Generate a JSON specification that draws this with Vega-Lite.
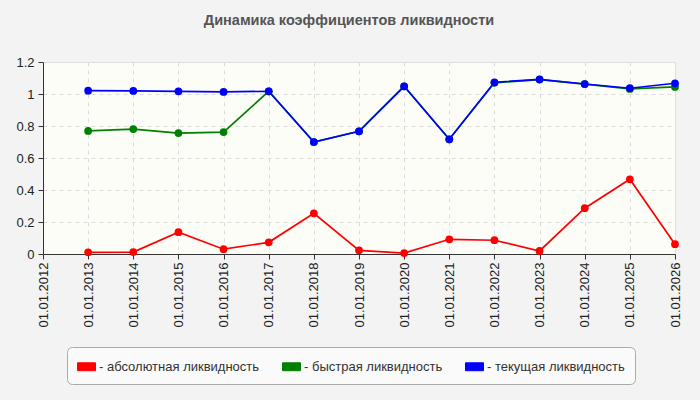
{
  "$schema": "https://vega.github.io/schema/vega-lite/v6.json",
  "width": 632,
  "height": 192,
  "autosize": {"type": "none"},
  "padding": {"left": 43, "top": 62, "right": 25, "bottom": 146},
  "background": "#f3f3f3",
  "title": {
    "text": "Динамика коэффициентов ликвидности",
    "font": "Liberation Sans",
    "fontSize": 14.5,
    "fontWeight": "bold",
    "color": "#555555",
    "anchor": "middle",
    "dx": -10,
    "offset": 28
  },
  "config": {
    "font": "Liberation Sans",
    "view": {"fill": "#fdfdf7", "stroke": "#e2e2e2"},
    "axis": {
      "labelFont": "Liberation Sans",
      "labelFontSize": 13,
      "labelColor": "#222222",
      "domainColor": "#333333",
      "tickColor": "#333333",
      "tickSize": 5,
      "gridColor": "#dddddd",
      "gridDash": [4, 4],
      "title": null
    }
  },
  "data": {
    "values": [
      {"year": 2013, "series": "абсолютная ликвидность", "value": 0.01},
      {"year": 2014, "series": "абсолютная ликвидность", "value": 0.012},
      {"year": 2015, "series": "абсолютная ликвидность", "value": 0.136},
      {"year": 2016, "series": "абсолютная ликвидность", "value": 0.03},
      {"year": 2017, "series": "абсолютная ликвидность", "value": 0.073},
      {"year": 2018, "series": "абсолютная ликвидность", "value": 0.254},
      {"year": 2019, "series": "абсолютная ликвидность", "value": 0.023},
      {"year": 2020, "series": "абсолютная ликвидность", "value": 0.006},
      {"year": 2021, "series": "абсолютная ликвидность", "value": 0.092},
      {"year": 2022, "series": "абсолютная ликвидность", "value": 0.086},
      {"year": 2023, "series": "абсолютная ликвидность", "value": 0.019},
      {"year": 2024, "series": "абсолютная ликвидность", "value": 0.286},
      {"year": 2025, "series": "абсолютная ликвидность", "value": 0.467},
      {"year": 2026, "series": "абсолютная ликвидность", "value": 0.061},
      {"year": 2013, "series": "быстрая ликвидность", "value": 0.769},
      {"year": 2014, "series": "быстрая ликвидность", "value": 0.781},
      {"year": 2015, "series": "быстрая ликвидность", "value": 0.756},
      {"year": 2016, "series": "быстрая ликвидность", "value": 0.762},
      {"year": 2017, "series": "быстрая ликвидность", "value": 1.017},
      {"year": 2018, "series": "быстрая ликвидность", "value": 0.70},
      {"year": 2019, "series": "быстрая ликвидность", "value": 0.767},
      {"year": 2020, "series": "быстрая ликвидность", "value": 1.048},
      {"year": 2021, "series": "быстрая ликвидность", "value": 0.717},
      {"year": 2022, "series": "быстрая ликвидность", "value": 1.07},
      {"year": 2023, "series": "быстрая ликвидность", "value": 1.09},
      {"year": 2024, "series": "быстрая ликвидность", "value": 1.062},
      {"year": 2025, "series": "быстрая ликвидность", "value": 1.032},
      {"year": 2026, "series": "быстрая ликвидность", "value": 1.044},
      {"year": 2013, "series": "текущая ликвидность", "value": 1.021},
      {"year": 2014, "series": "текущая ликвидность", "value": 1.019},
      {"year": 2015, "series": "текущая ликвидность", "value": 1.017},
      {"year": 2016, "series": "текущая ликвидность", "value": 1.013},
      {"year": 2017, "series": "текущая ликвидность", "value": 1.017},
      {"year": 2018, "series": "текущая ликвидность", "value": 0.70},
      {"year": 2019, "series": "текущая ликвидность", "value": 0.767},
      {"year": 2020, "series": "текущая ликвидность", "value": 1.048},
      {"year": 2021, "series": "текущая ликвидность", "value": 0.717},
      {"year": 2022, "series": "текущая ликвидность", "value": 1.073},
      {"year": 2023, "series": "текущая ликвидность", "value": 1.092},
      {"year": 2024, "series": "текущая ликвидность", "value": 1.0625},
      {"year": 2025, "series": "текущая ликвидность", "value": 1.036},
      {"year": 2026, "series": "текущая ликвидность", "value": 1.067}
    ]
  },
  "encoding": {
    "x": {
      "field": "year",
      "type": "quantitative",
      "scale": {"domain": [2012, 2026], "nice": false, "zero": false},
      "axis": {
        "values": [2012, 2013, 2014, 2015, 2016, 2017, 2018, 2019, 2020, 2021, 2022, 2023, 2024, 2025, 2026],
        "labelExpr": "'01.01.' + datum.value",
        "labelAngle": 270,
        "labelPadding": 3,
        "labelFlush": false,
        "labelOverlap": false
      }
    },
    "y": {
      "field": "value",
      "type": "quantitative",
      "scale": {"domain": [0, 1.2], "nice": false},
      "axis": {
        "values": [0, 0.2, 0.4, 0.6, 0.8, 1, 1.2],
        "format": "~g",
        "labelPadding": 4,
        "labelFlush": false
      }
    },
    "color": {
      "field": "series",
      "type": "nominal",
      "sort": ["абсолютная ликвидность", "быстрая ликвидность", "текущая ликвидность"],
      "scale": {
        "domain": ["абсолютная ликвидность", "быстрая ликвидность", "текущая ликвидность"],
        "range": ["#ff0000", "#008000", "#0000ff"]
      },
      "legend": {
        "title": null,
        "orient": "none",
        "direction": "horizontal",
        "legendX": 24,
        "legendY": 285,
        "labelExpr": "'- ' + datum.label",
        "labelFont": "Liberation Sans",
        "labelFontSize": 13,
        "labelColor": "#333333",
        "labelLimit": 400,
        "labelOffset": 3,
        "columnPadding": 20,
        "symbolType": "M-1,-0.44H1V0.44H-1Z",
        "symbolSize": 324,
        "symbolStrokeWidth": 1,
        "symbolOpacity": 1,
        "fillColor": "#fafafa",
        "strokeColor": "#aaaaaa",
        "cornerRadius": 5,
        "padding": 10
      }
    }
  },
  "layer": [
    {"mark": {"type": "line", "strokeWidth": 1.7}},
    {"mark": {"type": "point", "filled": true, "size": 60, "opacity": 1}}
  ]
}
